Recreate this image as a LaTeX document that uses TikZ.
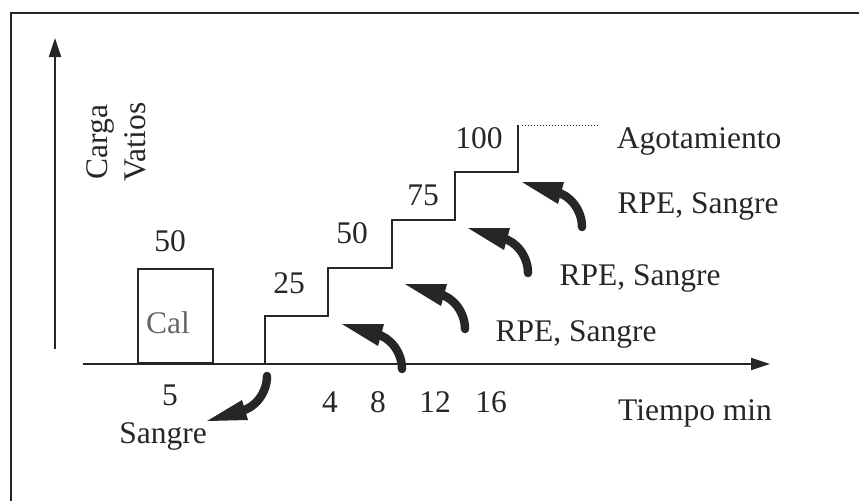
\documentclass[tikz,border=0pt]{standalone}
\usepackage{fontspec}
\setmainfont{Liberation Serif}
\usetikzlibrary{arrows.meta}
\begin{document}
\begin{tikzpicture}[x=1pt,y=-1pt,
  lbl/.style={inner sep=0pt, anchor=base, font=\fontsize{31.5}{36}\selectfont, text=black!85},
  axisline/.style={draw=black!85, line width=2pt, -{Triangle[length=19pt,width=12pt]}},
  stairline/.style={draw=black!85, line width=1.8pt, line join=miter},
  shaft/.style={draw=black!85, line width=8.5pt, line cap=round},
  headfill/.style={fill=black!85},
]
\useasboundingbox (0,0) rectangle (859,501);
% frame (cropped at right and bottom)
\draw[black!85, line width=2pt] (859,13) -- (11,13) -- (11,501);
% axes
\coordinate (yb) at (55,349);
\coordinate (yt) at (55,38);
\coordinate (xl) at (83,364);
\coordinate (xr) at (770,364);
\draw[axisline] (yb) -- (yt);
\draw[axisline] (xl) -- (xr);
% Cal box
\node[draw=black!85, line width=1.8pt, minimum width=75pt, minimum height=94pt,
      anchor=south west, inner sep=0pt] (calbox) at (137,364) {};
\node[lbl, text=black!60] (caltxt) at (168,333) {Cal};
% staircase
\coordinate (s0) at (265,364);
\coordinate (s1) at (328,316);
\coordinate (s2) at (392,268);
\coordinate (s3) at (455,220);
\coordinate (s4) at (518,172);
\coordinate (s5) at (518,125);
\draw[stairline] (s0) |- (s1) |- (s2) |- (s3) |- (s4) -- (s5);
\coordinate (d0) at (522,125);
\coordinate (d1) at (598,125);
\draw[black!85, line width=1pt, dotted] (d0) -- (d1);
% labels
\node[lbl] (l50a) at (170,251) {50};
\node[lbl] (l5) at (170,405) {5};
\node[lbl] (lsang) at (163,443) {Sangre};
\node[lbl] (l25) at (289,293) {25};
\node[lbl] (l50b) at (352,243) {50};
\node[lbl] (l75) at (423,205) {75};
\node[lbl] (l100) at (479,148) {100};
\node[lbl] (lagot) at (699,148) {Agotamiento};
\node[lbl] (lrpe3) at (698,213) {RPE, Sangre};
\node[lbl] (lrpe2) at (640,285) {RPE, Sangre};
\node[lbl] (lrpe1) at (576,341) {RPE, Sangre};
\node[lbl] (ltiempo) at (695,420) {Tiempo min};
\node[lbl] (t4) at (330,412) {4};
\node[lbl] (t8) at (378,412) {8};
\node[lbl] (t12) at (435,412) {12};
\node[lbl] (t16) at (491,412) {16};
\node[lbl, rotate=90] (lcarga) at (107,142) {Carga};
\node[lbl, rotate=90] (lvatios) at (145,142) {Vatios};
% curved arrows towards the stairs
\foreach \i/\px/\py in {1/342/324, 2/405/284, 3/468/228, 4/522/182} {
  \coordinate (h\i) at (\px,\py);
  \draw[shaft] (\px+60,\py+45) .. controls (\px+60,\py+28) and (\px+48,\py+13) .. (\px+34,\py+10);
  \fill[headfill] (h\i) -- (\px+42,\py) -- (\px+36,\py+22) -- cycle;
}
% blood sample arrow at start
\coordinate (hs) at (207,421);
\draw[shaft] (267,376) .. controls (267,393) and (255,408) .. (241,411);
\fill[headfill] (hs) -- (248,420) -- (242,400) -- cycle;
\end{tikzpicture}
\end{document}
